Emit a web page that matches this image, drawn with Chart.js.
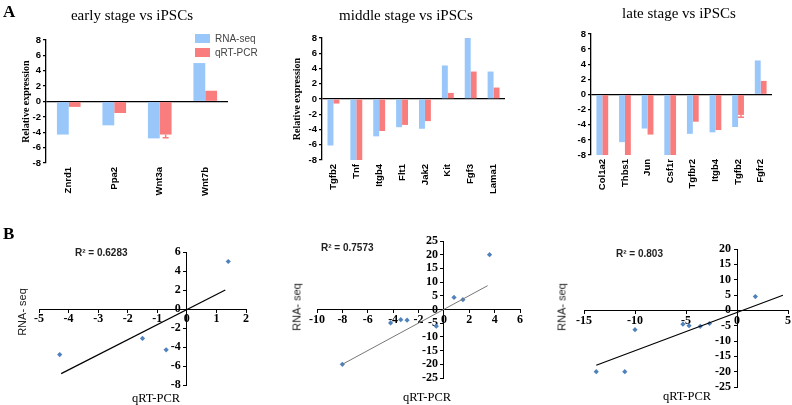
<!DOCTYPE html>
<html>
<head>
<meta charset="utf-8">
<script src="https://cdn.jsdelivr.net/npm/chart.js@4.4.1/dist/chart.umd.min.js"></script>
<style>
html, body { margin: 0; padding: 0; background: #fff; }
#fig { position: relative; width: 792px; height: 405px; overflow: hidden; }
canvas { position: absolute; }
.t { position: absolute; white-space: nowrap; line-height: 1; }
.c { transform: translate(-50%, -50%); }
.v { transform: translate(-50%, -50%) rotate(-90deg); }
.serif { font-family: "Liberation Serif", "Times New Roman", serif; }
.sans { font-family: "Liberation Sans", Arial, sans-serif; }
.box { position: absolute; width: 15px; height: 9px; }
</style>
</head>
<body>
<div id="fig">
  <canvas id="a1" width="262" height="200" style="left:0;top:0"></canvas>
  <canvas id="a2" width="264" height="200" style="left:262px;top:0"></canvas>
  <canvas id="a3" width="266" height="200" style="left:526px;top:0"></canvas>
  <canvas id="b1" width="262" height="205" style="left:0;top:200px"></canvas>
  <canvas id="b2" width="268" height="205" style="left:262px;top:200px"></canvas>
  <canvas id="b3" width="262" height="205" style="left:530px;top:200px"></canvas>

  <div class="t serif" style="left:3px;top:3px;font-size:17px;font-weight:bold">A</div>
  <div class="t serif" style="left:3px;top:225px;font-size:17px;font-weight:bold">B</div>

  <div class="t serif c" style="left:132px;top:15px;font-size:15px">early stage vs iPSCs</div>
  <div class="t serif c" style="left:406px;top:15px;font-size:15px">middle stage vs iPSCs</div>
  <div class="t serif c" style="left:679px;top:13px;font-size:15px">late stage vs iPSCs</div>

  <div id="legend"></div>

  <div class="t sans" style="left:75px;top:248px;font-size:10px;font-weight:bold;color:#222">R² = 0.6283</div>
  <div class="t sans" style="left:321px;top:243px;font-size:10px;font-weight:bold;color:#222">R² = 0.7573</div>
  <div class="t sans" style="left:616px;top:249px;font-size:10px;font-weight:bold;color:#222">R² = 0.803</div>

  <div class="t sans v" style="left:22px;top:312px;font-size:11px;color:#222">RNA- seq</div>
  <div class="t sans v" style="left:297px;top:307px;font-size:11px;color:#222">RNA- seq</div>
  <div class="t sans v" style="left:562px;top:307px;font-size:11px;color:#222">RNA- seq</div>

  <div class="t serif c" style="left:156px;top:398px;font-size:12.5px">qRT-PCR</div>
  <div class="t serif c" style="left:427px;top:397px;font-size:12.5px">qRT-PCR</div>
  <div class="t serif c" style="left:687px;top:396px;font-size:12.5px">qRT-PCR</div>
</div>

<script>
// series names and colours
var seriesNames = ['RNA-seq', 'qRT-PCR'];
var seriesColors = ['rgb(153,199,250)', 'rgb(250,125,125)'];

// early stage vs iPSCs
var earlyGenes = ['Znrd1', 'Ppa2', 'Wnt3a', 'Wnt7b'];
var earlyRna = [-4.3, -3.1, -4.8, 5.0];
var earlyQrt = [-0.7, -1.5, -4.3, 1.4];
var earlyQrtErr = [0, 0, 0.4, 0];

// middle stage vs iPSCs (values beyond +-8 are cut by the axis)
var middleGenes = ['Tgfb2', 'Tnf', 'Itgb4', 'Flt1', 'Jak2', 'Kit', 'Fgf3', 'Lama1'];
var middleRna = [-6.1, -20, -4.9, -3.7, -3.9, 4.4, 20, 3.6];
var middleQrt = [-0.6, -8, -4.2, -3.4, -2.9, 0.8, 3.6, 1.5];
var middleQrtErr = [0, 0, 0, 0, 0, 0, 0, 0];

// late stage vs iPSCs
var lateGenes = ['Col1a2', 'Thbs1', 'Jun', 'Csf1r', 'Tgfbr2', 'Itgb4', 'Tgfb2', 'Fgfr2'];
var lateRna = [-20, -6.3, -4.5, -20, -5.2, -5.0, -4.3, 4.5];
var lateQrt = [-13.8, -10, -5.3, -11, -3.6, -4.7, -2.7, 1.8];
var lateQrtErr = [0, 0, 0, 0, 0, 0, 0.3, 0];

// trend lines (qRT-PCR, RNA-seq end points)
var earlyTrendX = [-4.25, 1.3];
var earlyTrendY = [-6.8, 2.0];
var middleTrendX = [-8, 3.45];
var middleTrendY = [-20, 8.7];
var lateTrendX = [-13.8, 4.5];
var lateTrendY = [-17.9, 4.9];

var SERIF = '"Liberation Serif", "Times New Roman", serif';
var SANS = '"Liberation Sans", Arial, sans-serif';

// html legend for panel A
var lg = document.getElementById('legend');
seriesNames.forEach(function (n, i) {
    var b = document.createElement('div');
    b.className = 'box';
    b.style.left = '195px';
    b.style.top = (34 + i * 14) + 'px';
    b.style.background = seriesColors[i];
    lg.appendChild(b);
    var t = document.createElement('div');
    t.className = 't sans';
    t.style.left = '215px';
    t.style.top = (34 + i * 14) + 'px';
    t.style.fontSize = '10px';
    t.style.color = '#444';
    t.textContent = n;
    lg.appendChild(t);
});

var errorBars = {
    id: 'errorBars',
    afterDatasetsDraw: function (chart, args, opts) {
        var errs = opts.values;
        if (!errs) return;
        var meta = chart.getDatasetMeta(1);
        var y = chart.scales.y;
        var ctx = chart.ctx;
        ctx.save();
        ctx.strokeStyle = seriesColors[1];
        ctx.lineWidth = 1.5;
        meta.data.forEach(function (bar, i) {
            if (!errs[i]) return;
            var v = chart.data.datasets[1].data[i];
            var y1 = y.getPixelForValue(v);
            var y2 = y.getPixelForValue(v < 0 ? v - errs[i] : v + errs[i]);
            ctx.beginPath();
            ctx.moveTo(bar.x, y1);
            ctx.lineTo(bar.x, y2);
            ctx.moveTo(bar.x - 3, y2);
            ctx.lineTo(bar.x + 3, y2);
            ctx.stroke();
        });
        ctx.restore();
    }
};

function makeBar(id, genes, rna, qrt, errs, lay) {
    return new Chart(document.getElementById(id), {
        type: 'bar',
        data: {
            labels: genes,
            datasets: [
                { label: seriesNames[0], data: rna, backgroundColor: seriesColors[0], borderWidth: 0 },
                { label: seriesNames[1], data: qrt, backgroundColor: seriesColors[1], borderWidth: 0 }
            ]
        },
        plugins: [errorBars],
        options: {
            responsive: false,
            animation: false,
            devicePixelRatio: 1,
            layout: { padding: { left: lay.padL, right: lay.padR, top: lay.padT, bottom: 0 } },
            datasets: { bar: { categoryPercentage: 0.52, barPercentage: 1.0 } },
            plugins: {
                legend: { display: false },
                tooltip: { enabled: false },
                errorBars: { values: errs }
            },
            scales: {
                x: {
                    grid: { display: false, drawTicks: false },
                    border: { display: false },
                    ticks: {
                        autoSkip: false, minRotation: 90, maxRotation: 90, padding: 4,
                        color: '#000', font: { family: SANS, size: 9.5, weight: 'bold' }
                    },
                    afterFit: function (s) { s.height = lay.xH; }
                },
                y: {
                    min: -8, max: 8,
                    ticks: { stepSize: 2, padding: 2, color: '#000', font: { family: SANS, size: 9.5, weight: 'bold' } },
                    grid: {
                        color: function (c) { return c.tick && c.tick.value === 0 ? '#000' : 'rgba(0,0,0,0)'; },
                        lineWidth: 1.3, tickColor: '#000', tickLength: 3
                    },
                    border: { color: '#000', width: 1.3 },
                    title: {
                        display: !!lay.title, text: lay.title || '', color: '#000',
                        font: { family: SERIF, size: 10, weight: 'bold' }, padding: { top: 0, bottom: 0 }
                    },
                    afterFit: function (s) { s.width = lay.yW; }
                }
            }
        }
    });
}

function makeScatter(id, qrt, rna, tx, ty, xr, yr, pad, lineColor, lineWidth) {
    var pts = qrt.map(function (q, i) { return { x: q, y: rna[i] }; });
    var trend = tx.map(function (x, i) { return { x: x, y: ty[i] }; });
    var tickFont = { family: SERIF, size: 12, weight: 'bold' };
    return new Chart(document.getElementById(id), {
        type: 'scatter',
        data: {
            datasets: [
                { data: trend, showLine: true, borderColor: lineColor, borderWidth: lineWidth, pointRadius: 0 },
                { data: pts, pointStyle: 'rectRot', pointRadius: 2.6, backgroundColor: '#4f81bd', borderWidth: 0 }
            ]
        },
        options: {
            responsive: false,
            animation: false,
            devicePixelRatio: 1,
            layout: { padding: pad },
            plugins: { legend: { display: false }, tooltip: { enabled: false } },
            scales: {
                x: {
                    type: 'linear', position: { y: 0 }, min: xr[0], max: xr[1],
                    ticks: { stepSize: xr[2], autoSkip: false, padding: 0, color: '#000', font: tickFont },
                    grid: { drawOnChartArea: false, tickLength: 3, tickColor: '#000' },
                    border: { color: '#000', width: 1 }
                },
                y: {
                    type: 'linear', position: { x: 0 }, min: yr[0], max: yr[1],
                    ticks: {
                        stepSize: yr[2], autoSkip: false, color: '#000', font: tickFont,
                        // labels sit left of the centred axis; a trailing space keeps them off the line
                        callback: function (v) { return v + '\u2002'; }
                    },
                    grid: { drawOnChartArea: false, tickLength: 3, tickColor: '#000' },
                    border: { color: '#000', width: 1 }
                }
            }
        }
    });
}

makeBar('a1', earlyGenes, earlyRna, earlyQrt, earlyQrtErr,
    { padL: 20, padR: 34, padT: 40, yW: 26, xH: 37, title: 'Relative expression' });
makeBar('a2', middleGenes, middleRna, middleQrt, middleQrtErr,
    { padL: 29, padR: 21, padT: 38, yW: 31, xH: 40, title: 'Relative expression' });
makeBar('a3', lateGenes, lateRna, lateQrt, lateQrtErr,
    { padL: 30, padR: 20, padT: 34, yW: 35, xH: 45, title: '' });

makeScatter('b1', earlyQrt, earlyRna, earlyTrendX, earlyTrendY, [-5, 2, 1], [-8, 6, 2],
    { left: 39, right: 16, top: 52, bottom: 20 }, '#000', 1.2);
makeScatter('b2', middleQrt, middleRna, middleTrendX, middleTrendY, [-10, 6, 2], [-25, 25, 5],
    { left: 55, right: 10, top: 41, bottom: 27 }, '#777', 1);
makeScatter('b3', lateQrt, lateRna, lateTrendX, lateTrendY, [-15, 5, 5], [-25, 20, 5],
    { left: 54, right: 3, top: 49, bottom: 18 }, '#000', 1.2);
</script>
</body>
</html>
